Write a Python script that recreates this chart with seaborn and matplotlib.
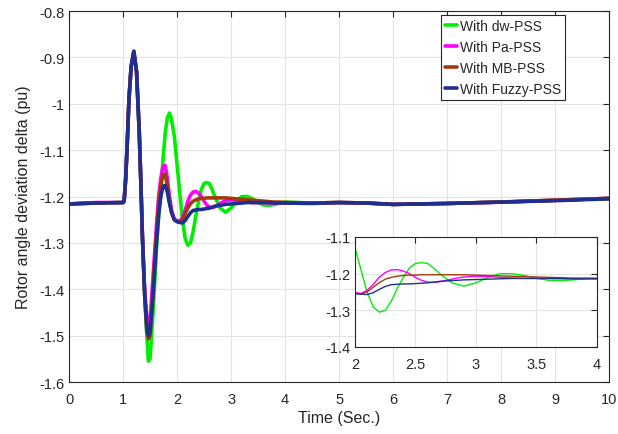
import matplotlib

matplotlib.use("Agg")
import matplotlib.pyplot as plt  # noqa: E402
import pandas as pd  # noqa: E402
import seaborn as sns  # noqa: E402

# time samples (s), shared by all four responses
time_s = [
    0, 0.5, 1.0, 1.02, 1.05, 1.08, 1.11, 1.15, 1.2, 1.25, 1.3, 1.33, 1.36,
    1.4, 1.44, 1.47, 1.5, 1.54, 1.58, 1.62, 1.66, 1.7, 1.74, 1.78, 1.82,
    1.86, 1.9, 1.95, 2.0, 2.05, 2.1, 2.15, 2.2, 2.25, 2.3, 2.35, 2.4, 2.45,
    2.5, 2.55, 2.6, 2.65, 2.7, 2.8, 2.9, 3.0, 3.1, 3.2, 3.3, 3.4, 3.5, 3.6,
    3.7, 3.8, 3.9, 4.0, 4.5, 5, 5.5, 6, 7, 8, 9, 10,
]

delta_dw = [
    -1.216, -1.214, -1.213, -1.210, -1.16, -1.08, -0.99, -0.92, -0.887,
    -0.93, -1.06, -1.17, -1.29, -1.41, -1.50, -1.555, -1.55, -1.48, -1.40,
    -1.31, -1.24, -1.19, -1.12, -1.065, -1.03, -1.02, -1.035, -1.07, -1.13,
    -1.19, -1.25, -1.29, -1.305, -1.30, -1.275, -1.24, -1.21, -1.185,
    -1.172, -1.170, -1.172, -1.185, -1.20, -1.225, -1.234, -1.225, -1.21,
    -1.200, -1.200, -1.205, -1.213, -1.218, -1.219, -1.217, -1.214, -1.212,
    -1.214, -1.213, -1.214, -1.217, -1.215, -1.212, -1.208, -1.204,
]

delta_pa = [
    -1.216, -1.213, -1.213, -1.210, -1.16, -1.08, -0.99, -0.92, -0.887,
    -0.93, -1.06, -1.17, -1.29, -1.40, -1.46, -1.48, -1.47, -1.40, -1.33,
    -1.26, -1.20, -1.16, -1.135, -1.133, -1.16, -1.20, -1.23, -1.25,
    -1.252, -1.254, -1.245, -1.23, -1.21, -1.197, -1.19, -1.189, -1.193,
    -1.20, -1.21, -1.218, -1.223, -1.224, -1.222, -1.215, -1.209, -1.207,
    -1.208, -1.210, -1.212, -1.213, -1.213, -1.213, -1.214, -1.214, -1.214,
    -1.214, -1.214, -1.213, -1.214, -1.217, -1.215, -1.212, -1.208, -1.204,
]

delta_mb = [
    -1.216, -1.214, -1.213, -1.210, -1.16, -1.08, -0.99, -0.92, -0.887,
    -0.93, -1.06, -1.17, -1.29, -1.41, -1.49, -1.507, -1.50, -1.43, -1.35,
    -1.28, -1.215, -1.175, -1.153, -1.152, -1.175, -1.21, -1.235, -1.25,
    -1.254, -1.255, -1.25, -1.237, -1.225, -1.215, -1.210, -1.207, -1.205,
    -1.204, -1.204, -1.203, -1.203, -1.203, -1.203, -1.203, -1.203, -1.204,
    -1.205, -1.206, -1.207, -1.208, -1.209, -1.210, -1.211, -1.212, -1.212,
    -1.213, -1.214, -1.213, -1.214, -1.217, -1.215, -1.212, -1.208, -1.204,
]

delta_fuzzy = [
    -1.216, -1.214, -1.213, -1.210, -1.16, -1.08, -0.99, -0.92, -0.887,
    -0.93, -1.06, -1.17, -1.29, -1.41, -1.48, -1.500, -1.49, -1.44, -1.37,
    -1.30, -1.24, -1.20, -1.178, -1.176, -1.19, -1.215, -1.235, -1.25,
    -1.254, -1.256, -1.257, -1.252, -1.243, -1.235, -1.230, -1.229, -1.228,
    -1.228, -1.227, -1.226, -1.225, -1.223, -1.221, -1.219, -1.217, -1.216,
    -1.215, -1.214, -1.213, -1.213, -1.213, -1.213, -1.213, -1.214, -1.214,
    -1.214, -1.215, -1.213, -1.214, -1.217, -1.215, -1.212, -1.209, -1.205,
]

SERIES = [
    ("With dw-PSS", delta_dw, "#00ee00"),
    ("With Pa-PSS", delta_pa, "#ff00ff"),
    ("With MB-PSS", delta_mb, "#a33a0a"),
    ("With Fuzzy-PSS", delta_fuzzy, "#1f2f8f"),
]

main_xticks = list(range(0, 11))
main_yticks = [-1.6, -1.5, -1.4, -1.3, -1.2, -1.1, -1, -0.9, -0.8]
inset_xticks = [2, 2.5, 3, 3.5, 4]
inset_yticks = [-1.4, -1.3, -1.2, -1.1]


def fmt(v):
    return f"{v:g}"


def style_axes(ax, fontsize):
    ax.grid(True, color="#e3e3e3", linewidth=0.8)
    ax.set_axisbelow(True)
    ax.tick_params(direction="in", length=4, width=0.8, labelsize=fontsize,
                   colors="#262626", top=True, right=True)
    ax.tick_params(axis="x", pad=7)
    for sp in ax.spines.values():
        sp.set_visible(True)
        sp.set_color("#262626")
        sp.set_linewidth(0.8)


sns.set_style("white")
plt.rcParams["font.family"] = ["Liberation Sans", "DejaVu Sans"]

df = pd.concat(
    [pd.DataFrame({"t": time_s, "delta": vals, "series": name})
     for name, vals, _ in SERIES],
    ignore_index=True,
)
palette = {name: col for name, _, col in SERIES}

fig = plt.figure(figsize=(6.18, 4.35), dpi=100)
ax = fig.add_axes([0.1117, 0.1195, 0.8738, 0.8529])

sns.lineplot(data=df, x="t", y="delta", hue="series", palette=palette,
             linewidth=2.6, ax=ax, sort=False, estimator=None)
ax.set_xlim(0, 10)
ax.set_ylim(-1.6, -0.8)
ax.set_xticks(main_xticks)
ax.set_xticklabels([fmt(v) for v in main_xticks])
ax.set_yticks(main_yticks)
ax.set_yticklabels([fmt(v) for v in main_yticks])
ax.set_xlabel("Time (Sec.)", fontsize=11.5, color="#262626", labelpad=3)
ax.set_ylabel("Rotor angle deviation delta (pu)", fontsize=11.5,
              color="#262626", labelpad=6)
style_axes(ax, 10.5)

leg = ax.legend(loc="upper right", bbox_to_anchor=(0.919, 0.99),
                borderaxespad=0, fontsize=10, frameon=True, fancybox=False,
                handlelength=0.9, handletextpad=0.2, labelspacing=0.5,
                borderpad=0.3, title=None)
leg.get_frame().set_edgecolor("#262626")
leg.get_frame().set_linewidth(0.8)
leg.get_frame().set_alpha(1)

# zoomed inset 2..4 s
ins = fig.add_axes([0.5744, 0.2, 0.3916, 0.2529])
sns.lineplot(data=df, x="t", y="delta", hue="series", palette=palette,
             linewidth=1.0, ax=ins, sort=False, estimator=None, legend=False)
ins.set_xlim(2, 4)
ins.set_ylim(-1.4, -1.1)
ins.set_xticks(inset_xticks)
ins.set_xticklabels([fmt(v) for v in inset_xticks])
ins.set_yticks(inset_yticks)
ins.set_yticklabels([fmt(v) for v in inset_yticks])
ins.set_xlabel("")
ins.set_ylabel("")
style_axes(ins, 10.5)
ins.set_facecolor("white")

fig.savefig("out.png", dpi=100)
